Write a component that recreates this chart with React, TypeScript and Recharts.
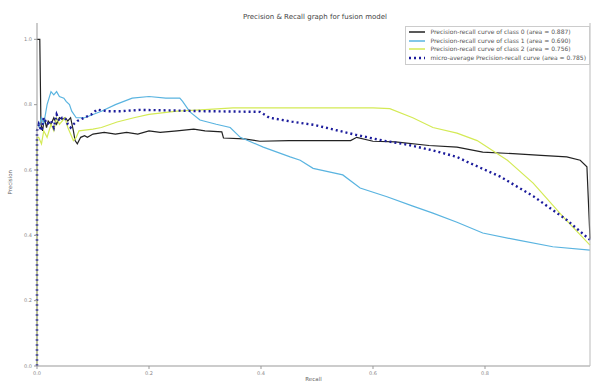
import React from 'react';
import { LineChart, Line, XAxis, YAxis } from 'recharts';

// Precision-recall points, [recall, precision]
const class0Points: [number, number][] = [
  [0, 1.0], [0.005, 1.0], [0.007, 0.74], [0.01, 0.72], [0.013, 0.76], [0.017, 0.73], [0.02, 0.75],
  [0.025, 0.74], [0.03, 0.76], [0.035, 0.74], [0.04, 0.76], [0.045, 0.755], [0.05, 0.76], [0.055, 0.75],
  [0.06, 0.76], [0.065, 0.72], [0.068, 0.69], [0.072, 0.68], [0.078, 0.70], [0.085, 0.705], [0.09, 0.70],
  [0.1, 0.71], [0.12, 0.715], [0.14, 0.71], [0.16, 0.715], [0.18, 0.71], [0.2, 0.72], [0.22, 0.715],
  [0.25, 0.72], [0.28, 0.725], [0.3, 0.72], [0.33, 0.717], [0.333, 0.698], [0.37, 0.695],
  [0.398, 0.688], [0.45, 0.69], [0.5, 0.69], [0.56, 0.69], [0.571, 0.70], [0.6, 0.688], [0.64, 0.686],
  [0.7, 0.675], [0.75, 0.67], [0.796, 0.655], [0.85, 0.65], [0.9, 0.645], [0.946, 0.64], [0.97, 0.63],
  [0.982, 0.61], [0.9875, 0.39],
];

const class1Points: [number, number][] = [
  [0.003, 0.73], [0.008, 0.76], [0.012, 0.74], [0.018, 0.80], [0.025, 0.84], [0.03, 0.83],
  [0.035, 0.84], [0.04, 0.825], [0.048, 0.82], [0.052, 0.81], [0.058, 0.80], [0.062, 0.78],
  [0.07, 0.76], [0.085, 0.76], [0.1, 0.77], [0.115, 0.78], [0.14, 0.80], [0.17, 0.82],
  [0.2, 0.825], [0.23, 0.82], [0.255, 0.82], [0.26, 0.81], [0.273, 0.778],
  [0.291, 0.753], [0.32, 0.74], [0.345, 0.73], [0.363, 0.70], [0.404, 0.67], [0.452, 0.64],
  [0.47, 0.63], [0.493, 0.605], [0.546, 0.585], [0.577, 0.545], [0.625, 0.518], [0.67, 0.49],
  [0.707, 0.468], [0.75, 0.44], [0.796, 0.407], [0.857, 0.386], [0.921, 0.365], [0.9875, 0.355],
];

const class2Points: [number, number][] = [
  [0, 0], [0, 0.70], [0.003, 0.70], [0.008, 0.68], [0.012, 0.72], [0.018, 0.70], [0.025, 0.74],
  [0.03, 0.72], [0.035, 0.76], [0.04, 0.74], [0.045, 0.75], [0.05, 0.76], [0.055, 0.73], [0.06, 0.71],
  [0.065, 0.69], [0.07, 0.70], [0.075, 0.72], [0.1, 0.725], [0.115, 0.73], [0.143, 0.747],
  [0.173, 0.76], [0.2, 0.77], [0.25, 0.78], [0.3, 0.785], [0.35, 0.79],
  [0.4, 0.79], [0.45, 0.79], [0.5, 0.79], [0.55, 0.79], [0.6, 0.79], [0.63, 0.788], [0.671, 0.76],
  [0.707, 0.73], [0.75, 0.713], [0.786, 0.69], [0.84, 0.63], [0.886, 0.56], [0.94, 0.456],
  [0.9875, 0.37],
];

const microPoints: [number, number][] = [
  [0, 0], [0, 0.72], [0.003, 0.74], [0.008, 0.72], [0.012, 0.76], [0.018, 0.74], [0.025, 0.75],
  [0.03, 0.73], [0.035, 0.77], [0.04, 0.75], [0.045, 0.76], [0.05, 0.76], [0.055, 0.74], [0.06, 0.73],
  [0.065, 0.74], [0.072, 0.75], [0.097, 0.77], [0.107, 0.785], [0.125, 0.78], [0.15, 0.78],
  [0.184, 0.784], [0.25, 0.782], [0.3, 0.78], [0.35, 0.779], [0.398, 0.778],
  [0.415, 0.76], [0.455, 0.748], [0.495, 0.738], [0.571, 0.707], [0.618, 0.69], [0.66, 0.678],
  [0.707, 0.66], [0.75, 0.64], [0.768, 0.625], [0.827, 0.58], [0.886, 0.52], [0.946, 0.447],
  [0.9875, 0.386],
];

const seriesNames = [
  'Precision-recall curve of class 0 (area = 0.887)',
  'Precision-recall curve of class 1 (area = 0.690)',
  'Precision-recall curve of class 2 (area = 0.756)',
  'micro-average Precision-recall curve (area = 0.785)',
];
const seriesColors = ['#222222', '#5ab4e0', '#d4ea55', '#1c1c9c'];

const xTicks = [0, 0.2, 0.4, 0.6, 0.8];
const yTicks = [0, 0.2, 0.4, 0.6, 0.8, 1.0];

const toRows = (pts: [number, number][]) => pts.map(([r, p]) => ({ recall: r, precision: p }));

const FONT = '"DejaVu Sans", sans-serif';

const LegendBox = () => (
  <div
    style={{
      position: 'absolute',
      top: 26,
      right: 2,
      border: '1px solid #cccccc',
      background: '#ffffff',
      padding: '1px 3px 2px 3px',
      fontFamily: FONT,
      fontSize: 6,
      color: '#555',
      lineHeight: '8.6px',
    }}
  >
    {seriesNames.map((name, i) => (
      <div key={name} style={{ display: 'flex', alignItems: 'center', whiteSpace: 'nowrap' }}>
        <svg width={16} height={6} style={{ marginRight: 5 }}>
          <line
            x1={0}
            y1={3}
            x2={16}
            y2={3}
            stroke={seriesColors[i]}
            strokeWidth={i === 3 ? 2.5 : 1.5}
            strokeDasharray={i === 3 ? '2 3' : undefined}
          />
        </svg>
        {name}
      </div>
    ))}
  </div>
);

export default function App() {
  const tickStyle = { fontSize: 5, fill: '#888', fontFamily: FONT };
  return (
    <div style={{ position: 'absolute', left: 0, top: 0, width: 592, height: 383, background: '#fff' }}>
      <LineChart width={592} height={383} margin={{ top: 23, right: 0, bottom: 0, left: 0 }}>
        <XAxis
          dataKey="recall"
          type="number"
          domain={[0, 0.9875]}
          ticks={xTicks}
          tickFormatter={(v: number) => v.toFixed(1)}
          allowDuplicatedCategory={false}
          height={17}
          tick={tickStyle}
          tickSize={3}
          stroke="#999"
          label={{ value: 'Recall', position: 'insideBottom', offset: 2, fontSize: 5.5, fill: '#666', fontFamily: FONT }}
        />
        <XAxis xAxisId="top" orientation="top" type="number" dataKey="recall" domain={[0, 0.9875]} tick={false} tickLine={false} height={0} stroke="#bbb" allowDuplicatedCategory={false} />
        <YAxis
          type="number"
          domain={[0, 1.05]}
          ticks={yTicks}
          tickFormatter={(v: number) => v.toFixed(1)}
          width={37}
          tick={tickStyle}
          tickSize={3}
          stroke="#999"
          label={{ value: 'Precision', angle: -90, position: 'insideLeft', offset: 10, fontSize: 5.5, fill: '#666', fontFamily: FONT }}
        />
        <YAxis yAxisId="right" orientation="right" domain={[0, 1.05]} tick={false} tickLine={false} width={2} stroke="#bbb" />
        <text x={315} y={19} textAnchor="middle" fontSize={7} fill="#444" fontFamily={FONT}>
          Precision &amp; Recall graph for fusion model
        </text>
        <Line data={toRows(class0Points)} dataKey="precision" name={seriesNames[0]} stroke={seriesColors[0]} strokeWidth={1.2} dot={false} isAnimationActive={false} />
        <Line data={toRows(class1Points)} dataKey="precision" name={seriesNames[1]} stroke={seriesColors[1]} strokeWidth={1.2} dot={false} isAnimationActive={false} />
        <Line data={toRows(class2Points)} dataKey="precision" name={seriesNames[2]} stroke={seriesColors[2]} strokeWidth={1.2} dot={false} isAnimationActive={false} />
        <Line data={toRows(microPoints)} dataKey="precision" name={seriesNames[3]} stroke={seriesColors[3]} strokeWidth={2.4} strokeDasharray="2 3" dot={false} isAnimationActive={false} />
      </LineChart>
      <LegendBox />
    </div>
  );
}
